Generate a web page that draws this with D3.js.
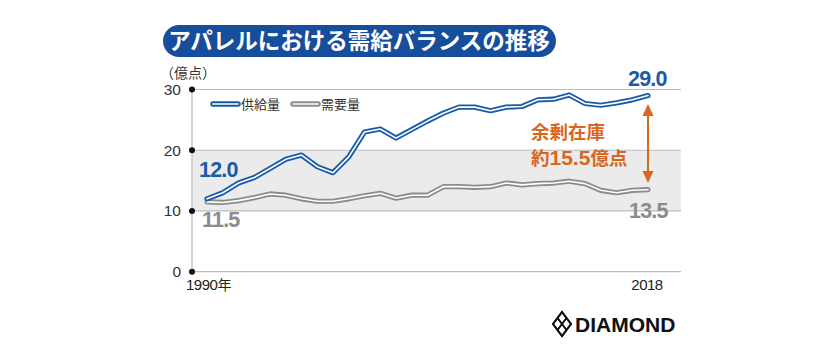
<!DOCTYPE html>
<html>
<head>
  <meta charset="utf-8">
  <script src="https://d3js.org/d3.v7.min.js"></script>
  <style>
    body { margin: 0; background: #fff; }
    svg { display: block; font-family: "Liberation Sans", Arial, "Noto Sans CJK JP", sans-serif; }
    .jp { font-family: "Noto Sans CJK JP", sans-serif; }
  </style>
</head>
<body>
  <svg width="837" height="351"></svg>

  <script>
    // data
    const years = d3.range(1990, 2019);
    const supply = [12.0, 13.0, 14.6, 15.5, 17.0, 18.5, 19.2, 17.3, 16.3, 18.9,
                    23.0, 23.5, 22.0, 23.4, 24.8, 26.1, 27.1, 27.1, 26.5, 27.1,
                    27.2, 28.3, 28.4, 29.1, 27.7, 27.4, 27.8, 28.3, 29.0];
    const demand = [11.5, 11.4, 11.7, 12.2, 12.8, 12.6, 12.0, 11.6, 11.6, 12.0,
                    12.5, 12.9, 12.1, 12.6, 12.6, 14.0, 14.0, 13.9, 14.0, 14.6,
                    14.3, 14.5, 14.6, 14.9, 14.5, 13.4, 13.0, 13.4, 13.5];
    const yTicks = [0, 10, 20, 30];
    const seriesNames = ["供給量", "需要量"];

    const blue = "#1b5aa5";
    const gray = "#8b8b8b";
    const orange = "#d8661e";

    const svg = d3.select("svg");

    const x = d3.scaleLinear().domain([1990, 2018]).range([207, 648]);
    const y = d3.scaleLinear().domain([0, 30]).range([271.7, 89.5]);
    const axisX = 192, plotRight = 681;

    // title pill
    svg.append("rect")
      .attr("x", 163).attr("y", 25).attr("width", 393).attr("height", 32)
      .attr("rx", 16).attr("fill", "#174e9b");
    svg.append("text")
      .attr("class", "jp")
      .attr("x", 359).attr("y", 49)
      .attr("text-anchor", "middle")
      .attr("fill", "#fff").attr("font-size", 22.5).attr("font-weight", 700)
      .text("アパレルにおける需給バランスの推移");

    svg.append("text")
      .attr("class", "jp")
      .attr("x", 160).attr("y", 78)
      .attr("font-size", 14).attr("fill", "#333")
      .text("（億点）");

    // gray band 10-20
    svg.append("rect")
      .attr("x", axisX).attr("y", y(20))
      .attr("width", plotRight - axisX).attr("height", y(10) - y(20))
      .attr("fill", "#ebebeb");

    // grid
    svg.selectAll(".grid")
      .data(yTicks)
      .enter().append("line")
      .attr("class", "grid")
      .attr("x1", axisX).attr("x2", plotRight)
      .attr("y1", d => y(d)).attr("y2", d => y(d))
      .attr("stroke", "#bcbcbc").attr("stroke-width", 1.2);

    svg.append("line")
      .attr("x1", axisX).attr("x2", axisX)
      .attr("y1", y(30)).attr("y2", y(0))
      .attr("stroke", "#bcbcbc").attr("stroke-width", 1.2);

    svg.selectAll(".dot")
      .data(yTicks)
      .enter().append("circle")
      .attr("cx", axisX).attr("cy", d => y(d)).attr("r", 3)
      .attr("fill", "#111");

    svg.selectAll(".ytl")
      .data(yTicks)
      .enter().append("text")
      .attr("x", 181).attr("y", d => y(d) + 5.5)
      .attr("text-anchor", "end")
      .attr("font-size", 15.5).attr("fill", "#333")
      .text(d => d);

    // x labels
    svg.append("text")
      .attr("x", 186).attr("y", 290)
      .attr("font-size", 15).attr("fill", "#222").attr("letter-spacing", -0.5)
      .text("1990").append("tspan").attr("class", "jp").attr("font-size", 14).text("年");
    svg.append("text")
      .attr("x", 647).attr("y", 290)
      .attr("text-anchor", "middle")
      .attr("font-size", 15).attr("fill", "#222").attr("letter-spacing", -0.5)
      .text("2018");

    // lines
    const line = d3.line()
      .x((d, i) => x(years[i]))
      .y(d => y(d));

    function doubleLine(data, color) {
      svg.append("path").datum(data)
        .attr("d", line).attr("fill", "none")
        .attr("stroke", color).attr("stroke-width", 5.2)
        .attr("stroke-linejoin", "round").attr("stroke-linecap", "round");
      svg.append("path").datum(data)
        .attr("d", line).attr("fill", "none")
        .attr("stroke", "#fff").attr("stroke-width", 1.6)
        .attr("stroke-linejoin", "round").attr("stroke-linecap", "round");
    }
    doubleLine(demand, gray);
    doubleLine(supply, blue);

    // legend
    const legend = [
      { name: seriesNames[0], color: blue, x: 213 },
      { name: seriesNames[1], color: gray, x: 293 }
    ];
    legend.forEach(l => {
      svg.append("line")
        .attr("x1", l.x).attr("x2", l.x + 25).attr("y1", 104).attr("y2", 104)
        .attr("stroke", l.color).attr("stroke-width", 5.5).attr("stroke-linecap", "round");
      svg.append("line")
        .attr("x1", l.x).attr("x2", l.x + 25).attr("y1", 104).attr("y2", 104)
        .attr("stroke", "#fff").attr("stroke-width", 1.6).attr("stroke-linecap", "round");
      svg.append("text")
        .attr("class", "jp")
        .attr("x", l.x + 28).attr("y", 109)
        .attr("font-size", 13).attr("fill", "#333")
        .text(l.name);
    });

    // value labels
    const fmt = d3.format(".1f");
    const valueLabels = [
      { v: supply[0], x: 199, y: 177, color: blue },
      { v: demand[0], x: 202, y: 227, color: gray },
      { v: supply[28], x: 628, y: 86, color: blue },
      { v: demand[28], x: 629, y: 218, color: gray }
    ];
    svg.selectAll(".vl")
      .data(valueLabels)
      .enter().append("text")
      .attr("x", d => d.x).attr("y", d => d.y)
      .attr("font-size", 21.5).attr("font-weight", 700)
      .attr("letter-spacing", -0.8)
      .attr("fill", d => d.color)
      .text(d => fmt(d.v));

    // surplus arrow
    const ax = x(2018);
    const arrowTop = 104, arrowBot = 183;
    svg.append("line")
      .attr("x1", ax).attr("x2", ax).attr("y1", arrowTop + 8).attr("y2", arrowBot - 8)
      .attr("stroke", orange).attr("stroke-width", 2);
    svg.append("path")
      .attr("d", `M${ax},${arrowTop} L${ax - 5.5},${arrowTop + 12} L${ax + 5.5},${arrowTop + 12} Z`)
      .attr("fill", orange);
    svg.append("path")
      .attr("d", `M${ax},${arrowBot} L${ax - 5.5},${arrowBot - 12} L${ax + 5.5},${arrowBot - 12} Z`)
      .attr("fill", orange);

    svg.append("text")
      .attr("class", "jp")
      .attr("x", 531).attr("y", 139)
      .attr("font-size", 18.5).attr("font-weight", 700).attr("fill", orange)
      .text("余剰在庫");
    const t2 = svg.append("text")
      .attr("class", "jp")
      .attr("x", 531).attr("y", 165)
      .attr("font-size", 18.5).attr("font-weight", 700).attr("fill", orange);
    t2.append("tspan").text("約");
    t2.append("tspan").attr("font-family", "'Liberation Sans', Arial, sans-serif").attr("font-size", 21).text(fmt(supply[28] - demand[28]));
    t2.append("tspan").text("億点");

    // logo
    const lg = svg.append("g").attr("transform", "translate(562,324)");
    const rh = (cx, cy, w, h) => `M${cx},${cy - h} L${cx + w},${cy} L${cx},${cy + h} L${cx - w},${cy} Z`;
    lg.append("path").attr("d", rh(0, 0, 9, 12))
      .attr("fill", "none").attr("stroke", "#111").attr("stroke-width", 2);
    [[0, -6], [-4.5, 0], [4.5, 0], [0, 6]].forEach(p => {
      lg.append("path").attr("d", rh(p[0], p[1], 4.5, 6))
        .attr("fill", "none").attr("stroke", "#111").attr("stroke-width", 1.6);
    });
    svg.append("text")
      .attr("x", 575).attr("y", 332)
      .attr("font-size", 21).attr("font-weight", 700).attr("fill", "#111")
      .text("DIAMOND");
  </script>
</body>
</html>
